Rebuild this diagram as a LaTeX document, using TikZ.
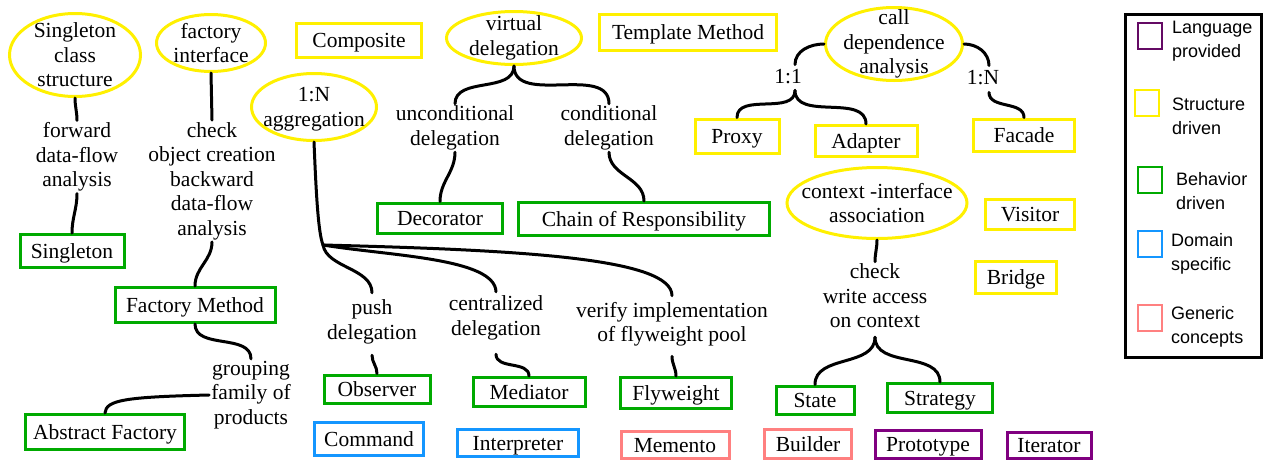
\documentclass[tikz,border=0pt]{standalone}
\usepackage{fontspec}
\setmainfont{Liberation Serif}
\newfontfamily\legfont{Liberation Sans}
\usetikzlibrary{shapes.geometric,calc}
\definecolor{cyel}{RGB}{255,240,0}
\definecolor{cgrn}{RGB}{0,170,0}
\definecolor{cblu}{RGB}{20,150,255}
\definecolor{cpnk}{RGB}{255,128,128}
\definecolor{cpur}{RGB}{128,0,128}
\definecolor{cpurd}{RGB}{100,10,100}
\begin{document}
\begin{tikzpicture}[x=1pt,y=-1pt,
 txt/.style={font=\fontsize{21.5}{24.5}\selectfont, align=center, inner sep=2pt},
 ell/.style={ellipse, draw=cyel, line width=3pt, inner sep=0pt},
 pbox/.style={rectangle, line width=3pt, inner sep=0pt, text height=14.5pt, text depth=0pt, font=\fontsize{21.5}{24.5}\selectfont},
 ybox/.style={pbox, draw=cyel},
 gbox/.style={pbox, draw=cgrn},
 bbox/.style={pbox, draw=cblu},
 kbox/.style={pbox, draw=cpnk},
 ubox/.style={pbox, draw=cpur},
 conn/.style={line width=3pt, line cap=round, draw=black},
 leg/.style={font=\legfont\fontsize{18}{24}\selectfont, align=left, anchor=west, inner sep=0pt},
 legsq/.style={rectangle, line width=2.5pt, minimum width=24, minimum height=26, inner sep=0pt}
]
\useasboundingbox (0,0) rectangle (1263,461);

% ellipses
\node[ell, minimum width=131, minimum height=83] (e1) at (75,55) {};
\node[txt] (e1t) at (e1) {Singleton\\class\\structure};
\node[ell, minimum width=109, minimum height=57] (e2) at (211,43) {};
\node[txt] (e2t) at (e2) {factory\\interface};
\node[ell, minimum width=125, minimum height=67] (e3) at (314,107) {};
\node[txt] (e3t) at (314,109) {1:N\\aggregation};
\node[ell, minimum width=135, minimum height=53] (e4) at (514,38) {};
\node[txt] (e4t) at (e4) {virtual\\delegation};
\node[ell, minimum width=137, minimum height=73] (e5) at (894,44) {};
\node[txt] (e5t) at (e5) {call\\dependence\\analysis};
\node[ell, minimum width=180, minimum height=71] (e6) at (877,203) {};
\node[txt] (e6t) at (e6) {context -interface\\association};

% labels
\node[txt] (l1) at (77,157) {forward\\data-flow\\analysis};
\node[txt] (l2) at (212,181) {check\\object creation\\backward\\data-flow\\analysis};
\node[txt] (l3) at (251,395) {grouping\\family of\\products};
\node[txt] (l4) at (455,128) {unconditional\\delegation};
\node[txt] (l5) at (609,128) {conditional\\delegation};
\node[txt] (l6) at (372,322) {push\\delegation};
\node[txt] (l7) at (496,318) {centralized\\delegation};
\node[txt] (l8) at (672,324) {verify implementation\\of flyweight pool};
\node[txt] (l11) at (788,77) {1:1};
\node[txt] (l12) at (983,78) {1:N};
\node[txt] (l13) at (875,296) {check\\write access\\on context};

% boxes
\node[ybox, minimum width=125, minimum height=34] (comp) at (359,40) {Composite};
\node[ybox, minimum width=177, minimum height=36] (tm) at (688,32) {Template Method};
\node[ybox, minimum width=84, minimum height=34] (proxy) at (737,136) {Proxy};
\node[ybox, minimum width=102, minimum height=31] (adapter) at (866,141) {Adapter};
\node[ybox, minimum width=101, minimum height=32] (facade) at (1024,135) {Facade};
\node[ybox, minimum width=89, minimum height=30] (visitor) at (1030,214) {Visitor};
\node[ybox, minimum width=81, minimum height=32] (bridge) at (1016,277) {Bridge};
\node[gbox, minimum width=104, minimum height=33] (sing) at (72,251) {Singleton};
\node[gbox, minimum width=160, minimum height=35] (fm) at (195,305) {Factory Method};
\node[gbox, minimum width=159, minimum height=35] (af) at (105,432) {Abstract Factory};
\node[gbox, minimum width=125, minimum height=30] (dec) at (440,218) {Decorator};
\node[gbox, minimum width=251, minimum height=33] (chain) at (644,219) {Chain of Responsibility};
\node[gbox, minimum width=106, minimum height=28] (obs) at (377,389) {Observer};
\node[gbox, minimum width=112, minimum height=29] (med) at (529,392) {Mediator};
\node[gbox, minimum width=111, minimum height=31] (fly) at (676,393) {Flyweight};
\node[gbox, minimum width=78, minimum height=28] (state) at (815,400) {State};
\node[gbox, minimum width=105, minimum height=29] (strat) at (940,398) {Strategy};
\node[bbox, minimum width=109, minimum height=33] (cmd) at (369,439) {Command};
\node[bbox, minimum width=121, minimum height=27] (interp) at (518,443) {Interpreter};
\node[kbox, minimum width=108, minimum height=27] (mem) at (675,445) {Memento};
\node[kbox, minimum width=87, minimum height=29] (builder) at (808,444) {Builder};
\node[ubox, minimum width=106, minimum height=28] (proto) at (928,444) {Prototype};
\node[ubox, minimum width=84, minimum height=26] (iter) at (1049,445) {Iterator};

% connectors
\draw[conn] (e1.south) to[out=-90,in=90] (l1.north);
\draw[conn] (l1.south) to[out=-90,in=90] (sing.north);
\draw[conn] (e2.south) -- (l2.north);
\draw[conn] (l2.south) to[out=-90,in=90] (fm.north);
\draw[conn] (fm.south) to[out=-90,in=90] (l3.north);
\draw[conn] (l3.west) .. controls (125,397) and (106,400) .. (af.north);

\draw[conn] (e4.south) to[out=-90,in=90] (l4.north);
\draw[conn] (e4.south) to[out=-90,in=90] (l5.north);
\draw[conn] (l4.south) to[out=-90,in=90] (dec.north);
\draw[conn] (l5.south) to[out=-90,in=90] (chain.north);

\coordinate (agg) at (323,245);
\draw[conn] (e3.south) .. controls (316,190) and (318,232) .. (agg);
\draw[conn] (agg) .. controls (327,268) and (372,268) .. ($(l6.north)+(0,-5)$);
\draw[conn] (agg) .. controls (390,256) and (495,258) .. ($(l7.north)+(0,-2)$);
\draw[conn] (agg) .. controls (520,250) and (672,258) .. ($(l8.north)+(0,-4)$);
\draw[conn] ($(l6.south)+(0,9)$) to[out=-90,in=90] (obs.north);
\draw[conn] ($(l7.south)+(0,12)$) to[out=-90,in=90] (med.north);
\draw[conn] ($(l8.south)+(0,8)$) to[out=-90,in=90] (fly.north);

\draw[conn] (e5.west) to[out=180,in=90] ($(l11.north)+(7,-3)$);
\draw[conn] (e5.east) to[out=0,in=90] ($(l12.north)+(6,-3)$);
\draw[conn] ($(l11.south)+(7,4)$) to[out=-90,in=90] (proxy.north);
\draw[conn] ($(l11.south)+(7,4)$) to[out=-90,in=90] (adapter.north);
\draw[conn] ($(l12.south)+(6,5)$) to[out=-90,in=90] (facade.north);

\draw[conn] (e6.south) to[out=-90,in=90] (l13.north);
\draw[conn] ($(l13.south)+(0,7)$) to[out=-90,in=90] (state.north);
\draw[conn] ($(l13.south)+(0,7)$) to[out=-90,in=90] (strat.north);

% legend
\draw[line width=3pt] (1125,14) rectangle (1261.5,357);
\node[legsq, draw=cpurd] (q1) at (1150,36) {};
\node[legsq, draw=cyel] (q2) at (1147,103) {};
\node[legsq, draw=cgrn] (q3) at (1150,180) {};
\node[legsq, draw=cblu] (q4) at (1150,244) {};
\node[legsq, draw=cpnk] (q5) at (1150,318) {};
\node[leg] (t1) at (1172,41) {Language\\provided};
\node[leg] (t2) at (1172,116) {Structure\\driven};
\node[leg] (t3) at (1176,191) {Behavior\\driven};
\node[leg] (t4) at (1171,254) {Domain\\specific};
\node[leg] (t5) at (1171,327) {Generic\\concepts};
\end{tikzpicture}
\end{document}
